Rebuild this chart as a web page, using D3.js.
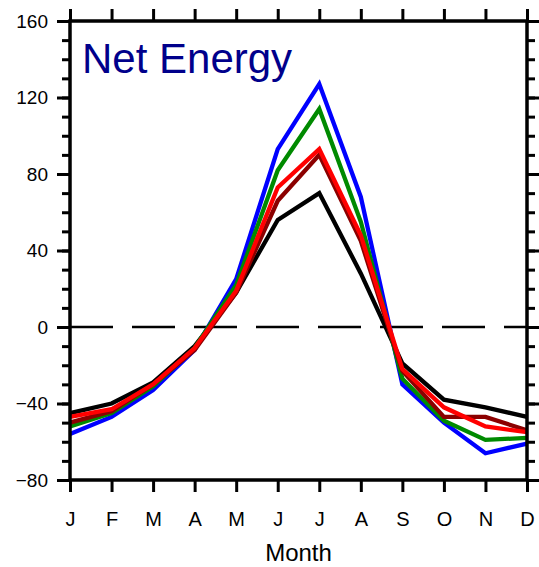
<!DOCTYPE html>
<html>
<head>
<meta charset="utf-8">
<script src="https://cdn.jsdelivr.net/npm/d3@7"></script>
<style>
  html, body { margin: 0; padding: 0; background: #fff; }
  svg { display: block; font-family: "Liberation Sans", Arial, Helvetica, sans-serif; }
</style>
</head>
<body>
<svg id="chart" width="539" height="567"></svg>
<script>
// Monthly net energy, five runs
const months = ["J", "F", "M", "A", "M", "J", "J", "A", "S", "O", "N", "D"];
const blueSeries    = [-56, -47, -33, -12, 25, 93, 127, 68, -30, -50, -66, -61];
const greenSeries   = [-52, -45, -31, -11, 22, 82, 114, 55, -27, -49, -59, -58];
const blackSeries   = [-45, -40, -29, -10, 18, 56, 70, 28, -19, -38, -42, -47];
const darkredSeries = [-50, -44, -30, -12, 18, 66, 90, 45, -23, -47, -47, -54];
const redSeries     = [-47, -43, -30, -11, 19, 73, 93, 48, -22, -42, -52, -55];
const yMajorTicks = [-80, -40, 0, 40, 80, 120, 160];
const yMinorTicks = d3.range(-80, 161, 10);
const titleText = "Net Energy";
const xTitle = "Month";

const series = [
  { values: blackSeries,   color: "#000000" },
  { values: blueSeries,    color: "#0000ff" },
  { values: greenSeries,   color: "#008a00" },
  { values: darkredSeries, color: "#8b0000" },
  { values: redSeries,     color: "#ff0000" }
];

const svg = d3.select("#chart");
const margin = { left: 70, top: 21, right: 12, bottom: 87 };
const W = 539 - margin.left - margin.right;
const H = 567 - margin.top - margin.bottom;

const x = d3.scalePoint().domain(d3.range(months.length)).range([0, W]);
const y = d3.scaleLinear().domain([-80, 160]).range([H, 0]);

const g = svg.append("g").attr("transform", `translate(${margin.left},${margin.top})`);

// zero reference line
g.append("line")
  .attr("x1", 0).attr("x2", W)
  .attr("y1", y(0)).attr("y2", y(0))
  .attr("stroke", "#000").attr("stroke-width", 2.5)
  .attr("stroke-dasharray", "43,19");

// series lines
const line = d3.line().x((d, i) => x(i)).y(d => y(d));
g.selectAll("path.series")
  .data(series)
  .join("path")
  .attr("class", "series")
  .attr("d", d => line(d.values))
  .attr("fill", "none")
  .attr("stroke", d => d.color)
  .attr("stroke-width", 4.3)
  .attr("stroke-linejoin", "miter");

// axes
function styleAxis(sel, withText, size) {
  sel.select(".domain").remove();
  sel.selectAll(".tick line").attr("stroke", "#000").attr("stroke-width", 3);
  if (withText) {
    sel.selectAll(".tick text").attr("fill", "#000").attr("font-size", size);
  } else {
    sel.selectAll(".tick text").remove();
  }
}

// y minor ticks (left and right)
g.append("g").call(d3.axisLeft(y).tickValues(yMinorTicks).tickSize(8).tickSizeOuter(0))
  .call(s => styleAxis(s, false));
g.append("g").attr("transform", `translate(${W},0)`)
  .call(d3.axisRight(y).tickValues(yMinorTicks).tickSize(8).tickSizeOuter(0))
  .call(s => styleAxis(s, false));

// y major ticks
g.append("g").call(d3.axisLeft(y).tickValues(yMajorTicks).tickSize(13).tickPadding(9).tickSizeOuter(0))
  .call(s => styleAxis(s, true, 19));
g.append("g").attr("transform", `translate(${W},0)`)
  .call(d3.axisRight(y).tickValues(yMajorTicks).tickSize(13).tickSizeOuter(0))
  .call(s => styleAxis(s, false));

// x ticks (bottom with labels, top bare)
g.append("g").attr("transform", `translate(0,${H})`)
  .call(d3.axisBottom(x).tickSize(12).tickPadding(20).tickFormat(i => months[i]).tickSizeOuter(0))
  .call(s => styleAxis(s, true, 20));
g.append("g")
  .call(d3.axisTop(x).tickSize(12).tickSizeOuter(0))
  .call(s => styleAxis(s, false));

// frame
g.append("rect")
  .attr("x", 0).attr("y", 0).attr("width", W).attr("height", H)
  .attr("fill", "none").attr("stroke", "#000").attr("stroke-width", 3.5);

// titles
g.append("text")
  .attr("x", 12).attr("y", 52)
  .attr("fill", "#00008b").attr("font-size", 42)
  .text(titleText);

svg.append("text")
  .attr("x", margin.left + W / 2).attr("y", 561)
  .attr("text-anchor", "middle")
  .attr("fill", "#000").attr("font-size", 24)
  .text(xTitle);
</script>
</body>
</html>
